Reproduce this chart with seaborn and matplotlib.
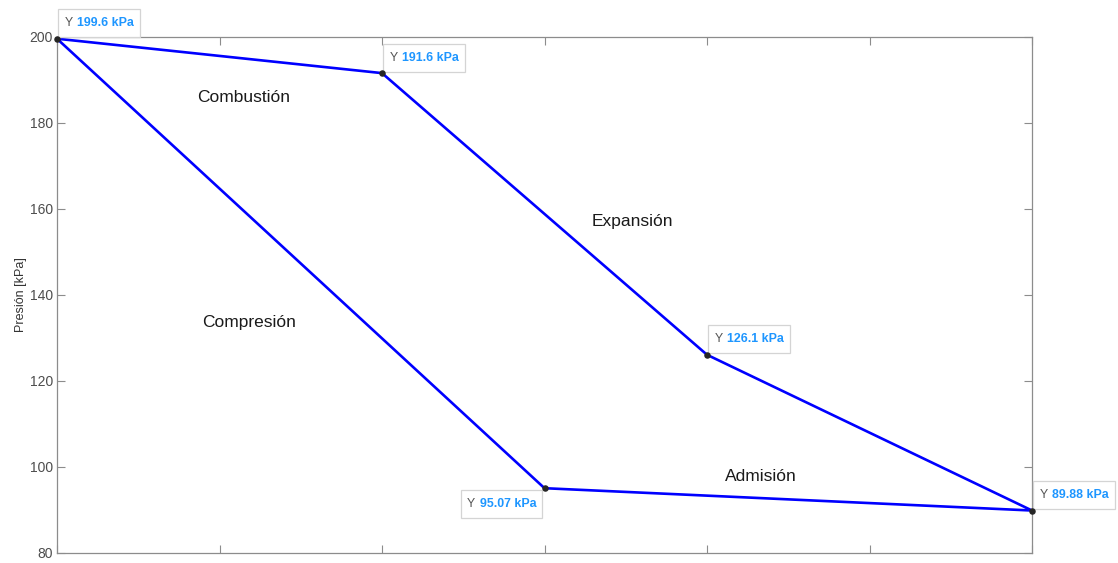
import matplotlib
matplotlib.use("Agg")
import matplotlib.pyplot as plt
import seaborn as sns
import pandas as pd
from matplotlib.offsetbox import TextArea, HPacker, AnnotationBbox, DrawingArea

# Cycle states (closed loop, back to the first state)
estado = [0, 2, 4, 6, 3, 0]
presion = [199.6, 191.6, 126.1, 89.88, 95.07, 199.6]

# Data tip labels: value text and which corner of the box sits on the point
tip_texto = ["199.6 kPa", "191.6 kPa", "126.1 kPa", "89.88 kPa", "95.07 kPa"]
tip_lado = ["ur", "ur", "ur", "ur", "ll"]

# Stage names and where they are written
etapas = ["Combustión", "Expansión", "Compresión", "Admisión"]
etapa_x = [1.15, 3.54, 1.18, 4.33]
etapa_y = [186.0, 157.2, 133.5, 97.9]

sns.set_theme(style="white")
plt.rcParams["font.family"] = ["Liberation Sans", "DejaVu Sans"]

fig = plt.figure(figsize=(11.18, 5.63), dpi=100)
ax = fig.add_axes([57 / 1118, 10 / 563, (1032 - 57) / 1118, (553 - 37) / 563])

df = pd.DataFrame({"estado": estado, "presion": presion})
sns.lineplot(data=df, x="estado", y="presion", sort=False, estimator=None,
             color="#0000ff", linewidth=1.9, ax=ax)

ax.set_xlim(0, 6)
ax.set_ylim(80, 200)
ax.set_xticks(range(0, 7))
ax.set_xticklabels([])
ax.set_yticks(range(80, 201, 20))
ax.tick_params(axis="both", direction="in", length=6, width=0.8,
               colors="#8c8c8c", labelcolor="#4d4d4d", labelsize=10,
               top=True, right=True, left=True, bottom=True, pad=3)
for sp in ax.spines.values():
    sp.set_visible(True)
    sp.set_color("#8c8c8c")
    sp.set_linewidth(0.9)

for nombre, ex, ey in zip(etapas, etapa_x, etapa_y):
    ax.text(ex, ey, nombre, fontsize=12.5, color="#1a1a1a",
            ha="center", va="center")

# Data tips
for xv, yv, txt, lado in zip(estado[:-1], presion[:-1], tip_texto, tip_lado):
    linea = HPacker(children=[
        TextArea("Y", textprops=dict(color="#555555", fontsize=8.9)),
        TextArea(txt, textprops=dict(color="#1e96ff", fontsize=8.9,
                                     fontweight="bold")),
    ], align="baseline", pad=0, sep=3.5)
    caja = HPacker(children=[DrawingArea(0, 11.5), linea],
                   align="center", pad=4.3, sep=0)
    if lado == "ur":
        align, off = (0.0, 0.0), (1.0, 1.0)
    else:
        align, off = (1.0, 1.0), (-1.5, -1.0)
    ab = AnnotationBbox(caja, (xv, yv), xybox=off, xycoords="data",
                        boxcoords="offset points", box_alignment=align,
                        pad=0, annotation_clip=False, zorder=10,
                        bboxprops=dict(facecolor="white", edgecolor="#d4d4d4",
                                       linewidth=0.9, boxstyle="square,pad=0"))
    ax.add_artist(ab)

# Vertex markers drawn on top of everything
sns.scatterplot(data=df.iloc[:-1], x="estado", y="presion", color="#262626",
                s=22, linewidth=0, zorder=20, ax=ax, clip_on=False)
ax.set_xlabel("")
ax.set_ylabel("Presión [kPa]", fontsize=9, color="#333333", labelpad=2)

fig.savefig("out.png", dpi=100, facecolor="white")
